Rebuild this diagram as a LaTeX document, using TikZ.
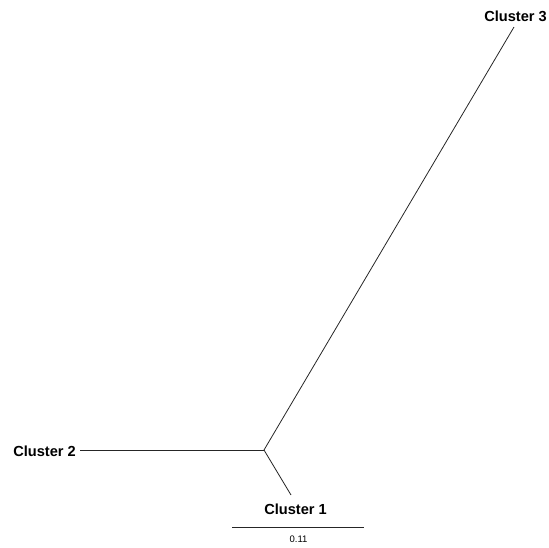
\documentclass[tikz,border=0pt]{standalone}
\usepackage{fontspec}
\setmainfont{Liberation Sans}
\begin{document}
\begin{tikzpicture}[x=1pt,y=-1pt,
  lbl/.style={font=\bfseries\fontsize{14.6}{16}\selectfont, inner sep=0pt},
  branch/.style={draw=black!85, line width=0.8pt}]
\useasboundingbox (0,0) rectangle (549,547);
\coordinate (root) at (264,450);
\coordinate (e2) at (80,450);
\coordinate (e1) at (291,495);
\coordinate (e3) at (514,27);
\node[lbl, anchor=east] (c2) at (76,451) {Cluster 2};
\node[lbl] (c1) at (295.5,509) {Cluster 1};
\node[lbl] (c3) at (515.5,16) {Cluster 3};
\draw[branch] (root) -- (e2);
\draw[branch] (root) -- (e1);
\draw[branch] (root) -- (e3);
\coordinate (s1) at (232,527.5);
\coordinate (s2) at (364,527.5);
\draw[branch] (s1) -- (s2);
\node[inner sep=0pt, font=\fontsize{9.5}{11}\selectfont] (sc) at (298.5,539.5) {0.11};
\end{tikzpicture}
\end{document}
